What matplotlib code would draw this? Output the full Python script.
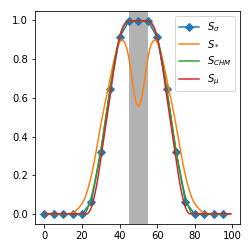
import numpy as np
import matplotlib
matplotlib.use("Agg")
import matplotlib.pyplot as plt

# S_sigma samples (every 5 steps)
x_sigma = [0, 5, 10, 15, 20, 25, 30, 35, 40, 45, 50, 55, 60, 65, 70, 75, 80, 85, 90, 95]
s_sigma = [0.0, 0.0, 0.0, 0.0, 0.0, 0.065, 0.32, 0.645, 0.91, 0.995,
           0.995, 0.995, 0.91, 0.645, 0.32, 0.065, 0.0, 0.0, 0.0, 0.0]

# dense curves, x = 0..99
x_dense = list(range(100))

# left half (x = 0..50), right half mirrors around 50
s_star_left = [0.002, 0.002, 0.002, 0.002, 0.002, 0.002, 0.002, 0.002, 0.002, 0.002,
               0.002, 0.002, 0.003, 0.004, 0.005, 0.007, 0.012, 0.02, 0.03, 0.042,
               0.055, 0.072, 0.095, 0.125, 0.16, 0.2, 0.245, 0.295, 0.35, 0.405,
               0.46, 0.51, 0.56, 0.605, 0.65, 0.7, 0.745, 0.79, 0.83, 0.862,
               0.885, 0.897, 0.893, 0.878, 0.848, 0.8, 0.74, 0.67, 0.61, 0.57, 0.555]
s_chm_left = [0.003, 0.003, 0.003, 0.003, 0.003, 0.003, 0.003, 0.003, 0.003, 0.003,
              0.003, 0.003, 0.003, 0.003, 0.003, 0.003, 0.003, 0.003, 0.003, 0.003,
              0.003, 0.003, 0.01, 0.03, 0.055, 0.09, 0.13, 0.175, 0.225, 0.275,
              0.33, 0.39, 0.455, 0.52, 0.585, 0.645, 0.71, 0.77, 0.825, 0.87,
              0.91, 0.94, 0.963, 0.978, 0.988, 0.993, 0.995, 0.995, 0.995, 0.995, 0.995]
s_mu_left = [0.003, 0.003, 0.003, 0.003, 0.003, 0.003, 0.003, 0.003, 0.003, 0.003,
             0.003, 0.003, 0.003, 0.003, 0.003, 0.003, 0.003, 0.003, 0.003, 0.003,
             0.003, 0.003, 0.003, 0.003, 0.015, 0.035, 0.068, 0.11, 0.16, 0.22,
             0.285, 0.35, 0.415, 0.48, 0.545, 0.61, 0.68, 0.75, 0.81, 0.865,
             0.91, 0.945, 0.968, 0.983, 0.99, 0.994, 0.995, 0.995, 0.995, 0.995, 0.995]

def mirror(left):
    # x = 51..99 mirror x = 49..1
    return left + left[49:0:-1]

s_star = mirror(s_star_left)
s_chm = mirror(s_chm_left)
s_mu = mirror(s_mu_left)

fig = plt.figure(figsize=(3.5, 3.5), dpi=72)
ax = fig.add_axes([0.139, 0.111, 0.813, 0.845])

ax.axvspan(45, 55, color="gray", alpha=0.6, lw=0)
ax.plot(x_sigma, s_sigma, marker="D", label=r"$S_\sigma$")
ax.plot(x_dense, s_star, label=r"$S_*$")
ax.plot(x_dense, s_chm, label=r"$S_{CHM}$")
ax.plot(x_dense, s_mu, label=r"$S_\mu$")

ax.set_xticks([0, 20, 40, 60, 80, 100])
ax.set_yticks([0.0, 0.2, 0.4, 0.6, 0.8, 1.0])
ax.legend(loc="upper right")

plt.savefig("out.png", dpi=72)
